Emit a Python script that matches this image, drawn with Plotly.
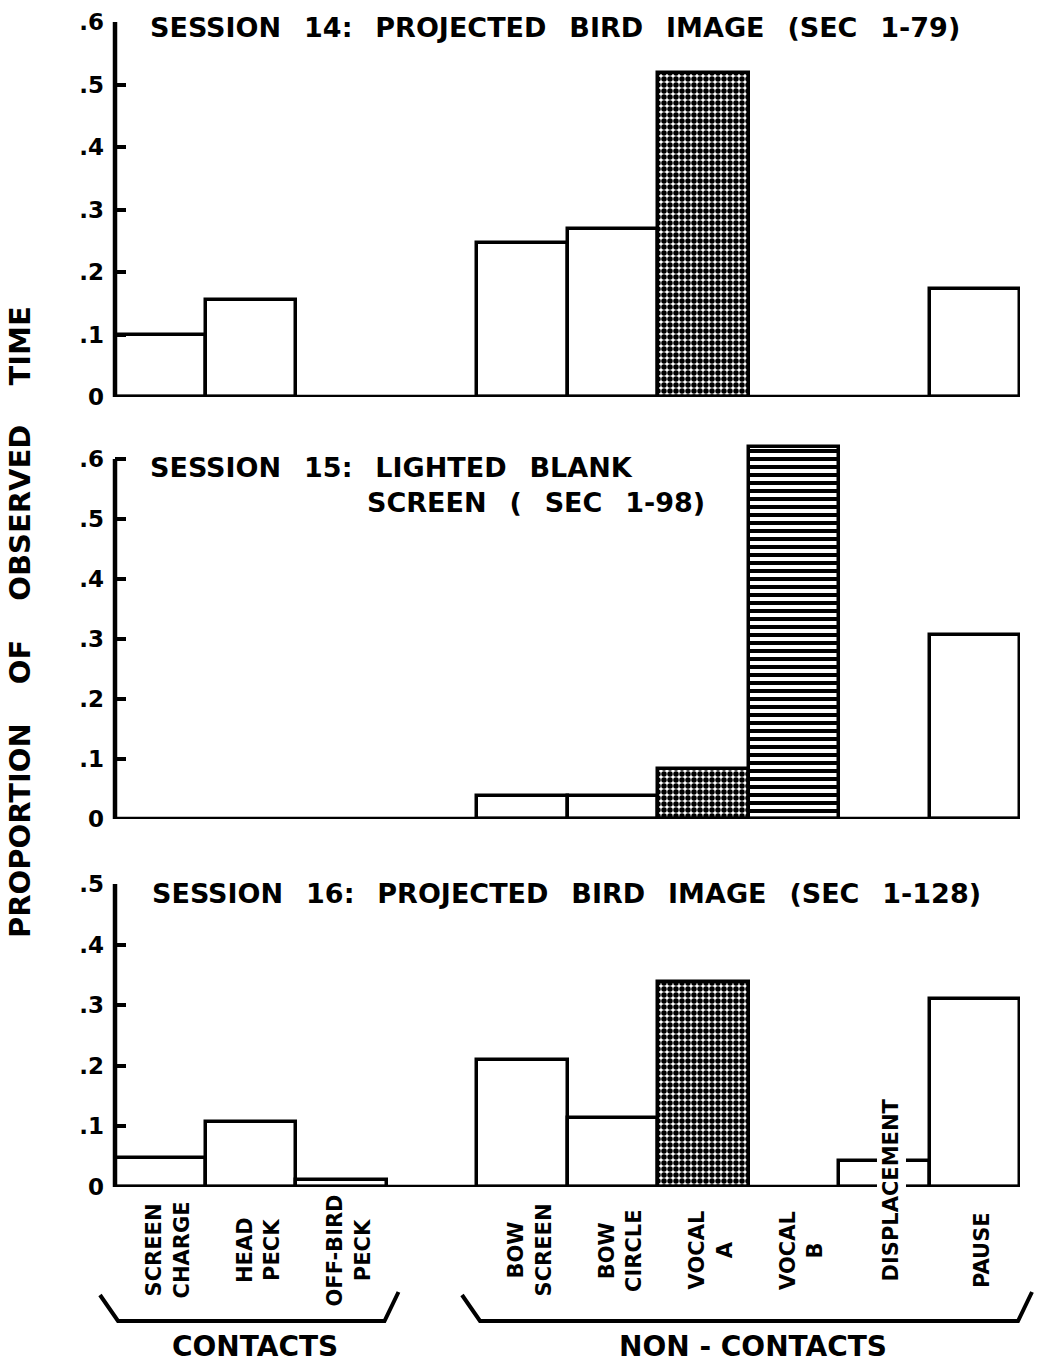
import plotly.graph_objects as go

# ---------------- data ----------------
contact_labels = ["SCREEN<br>CHARGE", "HEAD<br>PECK", "OFF-BIRD<br>PECK"]
noncontact_labels = ["BOW<br>SCREEN", "BOW<br>CIRCLE", "VOCAL<br>A", "VOCAL<br>B",
                     "DISPLACEMENT", "PAUSE"]
categories = contact_labels + noncontact_labels

s14_values = [0.10, 0.155, 0.0, 0.246, 0.269, 0.518, 0.0, 0.0, 0.173]
s15_values = [0.0, 0.0, 0.0, 0.038, 0.038, 0.083, 0.620, 0.0, 0.307]
s16_values = [0.048, 0.107, 0.012, 0.210, 0.114, 0.338, 0.0, 0.043, 0.310]

titles = [
    "SESSION 14: PROJECTED BIRD IMAGE (SEC 1-79)",
    "SESSION 15: LIGHTED BLANK",
    "SESSION 16: PROJECTED BIRD IMAGE (SEC 1-128)",
]
title15_line2 = "SCREEN ( SEC 1-98)"
y_axis_title = "PROPORTION OF OBSERVED TIME"
group_labels = ["CONTACTS", "NON - CONTACTS"]

tick_vals_6 = [0, 0.1, 0.2, 0.3, 0.4, 0.5, 0.6]
tick_vals_5 = [0, 0.1, 0.2, 0.3, 0.4, 0.5]
tick_text_6 = ["0", ".1", ".2", ".3", ".4", ".5", ".6"]
tick_text_5 = ["0", ".1", ".2", ".3", ".4", ".5"]

# ---------------- layout helpers ----------------
W, H = 1039, 1366
FONT = "DejaVu Sans"
n_contacts = len(contact_labels)
gap_slots = 1
slots = list(range(n_contacts)) + [n_contacts + gap_slots + i for i in range(len(noncontact_labels))]
n_slots = slots[-1] + 1


def py(px):  # pixel row -> paper y
    return 1 - px / H


def px_x(px):
    return px / W


def spaced(t, sep=" \u2002"):
    return t.replace(" ", sep)


x_dom = [px_x(115), px_x(1020)]
panels = [
    dict(vals=s14_values, zero=397, top_val=0.6, per=62.5, rng_top=0.6, tv=tick_vals_6, tt=tick_text_6),
    dict(vals=s15_values, zero=819, top_val=0.6, per=60.0, rng_top=0.66, tv=tick_vals_6, tt=tick_text_6),
    dict(vals=s16_values, zero=1187, top_val=0.5, per=60.6, rng_top=0.5, tv=tick_vals_5, tt=tick_text_5),
]

fig = go.Figure()

pattern_for = {
    "VOCAL<br>A": dict(shape=".", fgcolor="black", bgcolor="white", size=6, solidity=0.65, fillmode="replace"),
    "VOCAL<br>B": dict(shape="-", fgcolor="black", bgcolor="white", size=8, solidity=0.5, fillmode="replace"),
}

for k, p in enumerate(panels):
    idx = "" if k == 0 else str(k + 1)
    for j, cat in enumerate(categories):
        if p["vals"][j] <= 0:
            continue
        fig.add_trace(go.Bar(
            x=[slots[j]], y=[p["vals"][j]],
            width=1.0,
            marker=dict(color="white", line=dict(color="black", width=3.5),
                        pattern=pattern_for.get(cat, dict(shape=""))),
            xaxis="x" + idx, yaxis="y" + idx, showlegend=False,
            hoverinfo="skip",
        ))
    top_px = p["zero"] - p["rng_top"] * p["per"] * 10
    fig.update_layout(**{
        "xaxis" + idx: dict(domain=x_dom, range=[-0.5, n_slots - 0.5], anchor="y" + idx,
                            showline=False, showticklabels=False, ticks="", showgrid=False,
                            zeroline=False, fixedrange=True, automargin=False),
        "yaxis" + idx: dict(domain=[py(p["zero"]), py(top_px)], range=[0, p["rng_top"]],
                            anchor="x" + idx, showline=False, showgrid=False, zeroline=False,
                            tickvals=p["tv"], ticktext=p["tt"], ticks="inside",
                            ticklen=11, tickwidth=3.5, tickcolor="black",
                            ticklabelstandoff=10, automargin=False, fixedrange=True,
                            tickfont=dict(family=FONT, size=23, color="black", weight="bold")),
    })
    # y axis line up to top tick
    fig.add_shape(type="line", xref="x" + idx + " domain", yref="y" + idx,
                  x0=0, x1=0, y0=0, y1=p["top_val"],
                  line=dict(color="black", width=4.5))
    # baseline
    fig.add_shape(type="line", xref="x" + idx + " domain", yref="y" + idx,
                  x0=0, x1=1, y0=0, y1=0,
                  line=dict(color="black", width=4.5))

fig.update_layout(barmode="overlay", bargap=0)

# titles
title_font = dict(family=FONT, size=27, color="black", weight="bold")
fig.add_annotation(x=px_x(148), y=py(28), xref="paper", yref="paper", text=spaced(titles[0]),
                   showarrow=False, xanchor="left", yanchor="middle", font=title_font)
fig.add_annotation(x=px_x(148), y=py(467), xref="paper", yref="paper", text=spaced(titles[1]),
                   showarrow=False, xanchor="left", yanchor="middle", font=title_font)
fig.add_annotation(x=px_x(365), y=py(502), xref="paper", yref="paper", text=spaced(title15_line2),
                   showarrow=False, xanchor="left", yanchor="middle", font=title_font)
fig.add_annotation(x=px_x(150), y=py(893), xref="paper", yref="paper", text=spaced(titles[2]),
                   showarrow=False, xanchor="left", yanchor="middle", font=title_font)

# y axis title
fig.add_annotation(x=px_x(20), y=py(622), xref="paper", yref="paper",
                   text=spaced(y_axis_title, " \u2002\u2002"),
                   textangle=-90, showarrow=False, xanchor="center", yanchor="middle",
                   font=dict(family=FONT, size=29, color="black", weight="bold"))

# category labels (rotated)
lab_font = dict(family=FONT, size=21, color="black", weight="bold")
for j, cat in enumerate(categories):
    raised = cat == "DISPLACEMENT"
    fig.add_annotation(x=slots[j] + 0.08, y=py(1190 if raised else 1250),
                       xref="x3", yref="paper", text=cat, textangle=-90,
                       showarrow=False, xanchor="center", yanchor="middle", align="center",
                       font=lab_font, bgcolor="white" if raised else None,
                       borderpad=2)

# braces and group labels
brace_groups = [
    (-0.5, n_contacts - 0.5, group_labels[0]),
    (n_contacts + gap_slots - 0.5, n_slots - 0.5, group_labels[1]),
]
x0_px, x1_px = 115, 1020


def slot_px(s):
    return x0_px + (s + 0.5) / n_slots * (x1_px - x0_px)


for a, b, lab in brace_groups:
    L = slot_px(a) - 15
    R = slot_px(b) + 12
    path = (f"M {px_x(L)} {py(1295)} L {px_x(L + 18)} {py(1321)} "
            f"L {px_x(R - 14)} {py(1321)} L {px_x(R)} {py(1292)}")
    fig.add_shape(type="path", xref="paper", yref="paper", path=path,
                  line=dict(color="black", width=4))
    fig.add_annotation(x=px_x((slot_px(a) + slot_px(b)) / 2 + 4), y=py(1346), xref="paper", yref="paper",
                       text=lab, showarrow=False, xanchor="center", yanchor="middle",
                       font=dict(family=FONT, size=28, color="black", weight="bold"))

fig.update_layout(width=W, height=H, margin=dict(l=0, r=0, t=0, b=0, autoexpand=False),
                  paper_bgcolor="white", plot_bgcolor="white")

fig.write_html("out.html", config={"displayModeBar": False},
               post_script="document.body.style.margin='0';")
